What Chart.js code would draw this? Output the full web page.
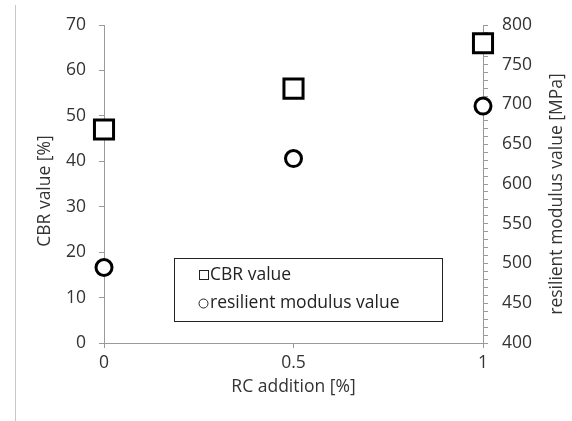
<!DOCTYPE html>
<html>
<head>
<meta charset="utf-8">
<script src="https://cdn.jsdelivr.net/npm/chart.js@4/dist/chart.umd.min.js"></script>
<style>
  html, body { margin: 0; padding: 0; background: #fff; }
  #wrap { position: relative; width: 572px; height: 421px; }
  #edge { position: absolute; left: 15px; top: 5px; bottom: 0; border-left: 1px solid #c8c8c8; }
</style>
</head>
<body>
<div id="wrap">
  <div id="edge"></div>
  <canvas id="chart" width="572" height="421"></canvas>
</div>
<script>
// RC addition [%]
const rcAddition = [0, 0.5, 1];
// CBR value [%]
const cbrValues = [47, 56, 66];
// resilient modulus value [MPa]
const modulusValues = [495, 632, 698];

const seriesLabels = ['CBR value', 'resilient modulus value'];
const leftTitle = 'CBR value [%]';
const rightTitle = 'resilient modulus value [MPa]';

const textColor = '#333';
const axisColor = '#9a9a9a';
const fontFamily = '"Open Sans", "Noto Sans", sans-serif';
const fontSize = 17.5;

// boxed legend inside the plot, plus the two vertical axis titles
const boxLegend = {
    id: 'boxLegend',
    afterDraw(chart) {
        const ctx = chart.ctx;
        const area = chart.chartArea;
        let x = area.left + 70;
        let y = area.top + 233;
        let w = 268, h = 63;

        ctx.save();
        ctx.fillStyle = '#fff';
        ctx.fillRect(x, y, w, h);
        ctx.strokeStyle = '#222';
        ctx.lineWidth = 1;
        ctx.strokeRect(x + 0.5, y + 0.5, w, h);

        ctx.font = fontSize + 'px ' + fontFamily;
        ctx.fillStyle = '#222';
        ctx.textBaseline = 'middle';

        // square
        ctx.strokeRect(x + 25.5, y + 12.5, 9, 9);
        ctx.fillText(seriesLabels[0], x + 36, y + 17);

        // circle
        ctx.beginPath();
        ctx.arc(x + 29.5, y + 45.5, 4.5, 0, Math.PI * 2);
        ctx.stroke();
        ctx.fillText(seriesLabels[1], x + 36, y + 45);

        // axis titles, both reading bottom to top
        ctx.fillStyle = textColor;
        ctx.textAlign = 'center';
        let midY = (area.top + area.bottom) / 2 + 7;

        ctx.translate(45, midY);
        ctx.rotate(-Math.PI / 2);
        ctx.fillText(leftTitle, 0, 0);
        ctx.rotate(Math.PI / 2);
        ctx.translate(-45, -midY);

        ctx.translate(557, midY + 3);
        ctx.rotate(-Math.PI / 2);
        ctx.fillText(rightTitle, 0, 0);
        ctx.restore();
    }
};

new Chart(document.getElementById('chart').getContext('2d'), {
    type: 'scatter',
    data: {
        datasets: [{
            label: seriesLabels[0],
            data: rcAddition.map((x, i) => ({ x, y: cbrValues[i] })),
            yAxisID: 'y',
            pointStyle: 'rect',
            pointRadius: 13.5,
            pointHoverRadius: 13.5,
            borderWidth: 3,
            borderColor: '#000',
            backgroundColor: '#fff',
            clip: false
        }, {
            label: seriesLabels[1],
            data: rcAddition.map((x, i) => ({ x, y: modulusValues[i] })),
            yAxisID: 'y2',
            pointStyle: 'circle',
            pointRadius: 8,
            pointHoverRadius: 8,
            borderWidth: 3,
            borderColor: '#000',
            backgroundColor: '#fff',
            clip: false
        }]
    },
    options: {
        responsive: false,
        animation: false,
        layout: {
            padding: { top: 25, left: 0, right: 0, bottom: 0 }
        },
        plugins: {
            legend: { display: false },
            tooltip: { enabled: false }
        },
        scales: {
            x: {
                type: 'linear',
                min: 0,
                max: 1,
                offset: false,
                border: { color: axisColor, width: 1 },
                grid: { drawOnChartArea: false, drawTicks: true, tickLength: 5, color: axisColor },
                ticks: {
                    stepSize: 0.5,
                    padding: 5,
                    color: textColor,
                    font: { family: fontFamily, size: fontSize },
                    callback: (v) => String(v)
                },
                title: {
                    display: true,
                    text: 'RC addition [%]',
                    color: textColor,
                    font: { family: fontFamily, size: fontSize },
                    padding: { top: 0, bottom: 23 }
                },
                afterFit(scale) { scale.height = 78; }
            },
            y: {
                position: 'left',
                min: 0,
                max: 70,
                border: { color: axisColor, width: 1 },
                grid: { drawOnChartArea: false, drawTicks: true, tickLength: 5, color: axisColor },
                ticks: { stepSize: 10, padding: 13, color: textColor, font: { family: fontFamily, size: fontSize } },
                afterFit(scale) { scale.width = 104; }
            },
            y2: {
                position: 'right',
                min: 400,
                max: 800,
                border: { color: axisColor, width: 1 },
                grid: { drawOnChartArea: false, drawTicks: true, tickLength: 5, color: axisColor },
                ticks: {
                    stepSize: 10,
                    autoSkip: false,
                    maxTicksLimit: 100,
                    padding: 14,
                    color: textColor,
                    font: { family: fontFamily, size: fontSize },
                    callback: (v) => (v % 50 === 0 ? String(v) : '')
                },
                afterFit(scale) { scale.width = 89; }
            }
        }
    },
    plugins: [boxLegend]
});
</script>
</body>
</html>
